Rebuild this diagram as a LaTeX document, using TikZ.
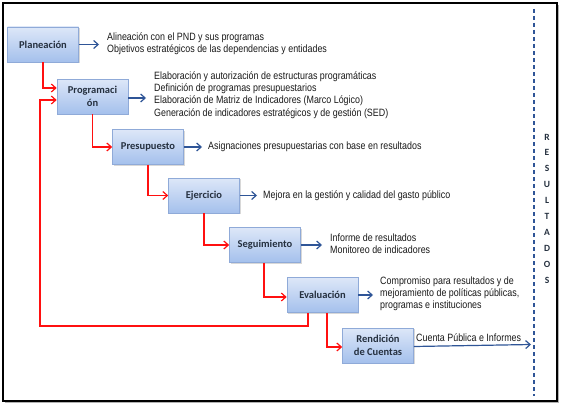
\documentclass[tikz,border=0pt]{standalone}
\usepackage{fontspec}
\setmainfont{Liberation Sans}
\newfontfamily\narrowf[FakeStretch=0.84]{Liberation Sans}
\newfontfamily\boxf{Carlito}
\usetikzlibrary{arrows.meta,shadows}
\definecolor{boxtop}{HTML}{DDE7F8}
\definecolor{boxbot}{HTML}{A4C0EC}
\definecolor{boxborder}{HTML}{8FAAD8}
\definecolor{boxtext}{HTML}{25303F}
\definecolor{bluearrow}{HTML}{2F5597}
\definecolor{redline}{HTML}{FF1010}
\definecolor{txt}{HTML}{1A1A1A}
\begin{document}
\begin{tikzpicture}[x=1pt,y=-1pt,
  stage/.style={draw=boxborder, line width=0.6pt, top color=boxtop, bottom color=boxbot,
    minimum width=71pt, minimum height=35pt, inner sep=0pt, align=center,
    font=\boxf\bfseries\fontsize{10.5}{13}\selectfont, text=boxtext,
    drop shadow={shadow xshift=1.2pt, shadow yshift=-1.4pt, opacity=0.3}},
  flow/.style={draw=redline, line width=1.2pt, -{Straight Barb[length=4.5pt,width=8pt]}},
  outarrow/.style={draw=bluearrow, line width=1.2pt, -{Straight Barb[length=4.5pt,width=8pt]}},
  desc/.style={anchor=west, inner sep=0pt, align=left, text=txt,
    font=\narrowf\fontsize{10.6}{12.2}\selectfont},
  vert/.style={inner sep=0pt, align=center, text=boxtext,
    font=\boxf\bfseries\fontsize{9.5}{15.9}\selectfont}
]
\useasboundingbox (0,0) rectangle (569,404);
\fill[gray!60] (5,5) rectangle (559,403);
\draw[line width=2pt, fill=white] (3,3) rectangle (557,401);

\node[stage] (plan) at (43,44.5) {Planeación};
\node[stage] (prog) at (92.5,96.5) {Programaci\\ón};
\node[stage] (pres) at (148,147) {Presupuesto};
\node[stage] (ejer) at (204,195.5) {Ejercicio};
\node[stage] (segu) at (265,245) {Seguimiento};
\node[stage] (eval) at (322.5,295) {Evaluación};
\node[stage] (rend) at (378,345.5) {Rendición\\de Cuentas};

\coordinate (loop) at (40,326);
\coordinate (resend) at (531,344.5);
\coordinate (progout) at ([yshift=-1.5pt]prog.east);

\draw[flow] (plan.south) |- ([yshift=8.5pt]prog.west);
\draw[flow] ([xshift=-14.5pt]eval.south) |- (loop) |- ([yshift=-3.5pt]prog.west);
\draw[flow] (prog.south) |- (pres.west);
\draw[flow] (pres.south) |- (ejer.west);
\draw[flow] (ejer.south) |- (segu.west);
\draw[flow] ([xshift=-1pt]segu.south) |- ([yshift=-2pt]eval.west);
\draw[flow] ([xshift=4.5pt]eval.south) |- ([yshift=-1.5pt]rend.west);

\node[desc] (tplan) at (107,43.5) {Alineación con el PND y sus programas\\Objetivos estratégicos de las dependencias y entidades};
\node[desc] (tprog) at (154,95) {Elaboración y autorización de estructuras programáticas\\Definición de programas presupuestarios\\Elaboración de Matriz de Indicadores (Marco Lógico)\\Generación de indicadores estratégicos y de gestión (SED)};
\node[desc] (tpres) at (208,147) {Asignaciones presupuestarias con base en resultados};
\node[desc] (tejer) at (263,195.5) {Mejora en la gestión y calidad del gasto público};
\node[desc] (tsegu) at (330,243.5) {Informe de resultados\\Monitoreo de indicadores};
\node[desc] (teval) at (380,294) {Compromiso para resultados y de\\mejoramiento de políticas públicas,\\programas e instituciones};
\node[desc, anchor=south west] (trend) at (416,341.5) {Cuenta Pública e Informes};

\draw[outarrow] (plan.east) -- ([xshift=-8pt]tplan.west |- plan.east);
\draw[outarrow] (progout) -- ([xshift=-8pt]tprog.west |- progout);
\draw[outarrow] (pres.east) -- ([xshift=-6pt]tpres.west);
\draw[outarrow] (ejer.east) -- ([xshift=-6pt]tejer.west);
\draw[outarrow] (segu.east) -- ([xshift=-8pt]tsegu.west |- segu.east);
\draw[outarrow] (eval.east) -- ([xshift=-7pt]teval.west |- eval.east);
\draw[outarrow] ([yshift=-1pt]rend.east) -- (resend);

\draw[bluearrow, line width=1.5pt, dash pattern=on 4pt off 3pt] (534,9) coordinate (dtop) -- (534,396) coordinate (dbot);
\node[vert] (res) at (547,208.5) {R\\E\\S\\U\\L\\T\\A\\D\\O\\S};
\end{tikzpicture}
\end{document}
